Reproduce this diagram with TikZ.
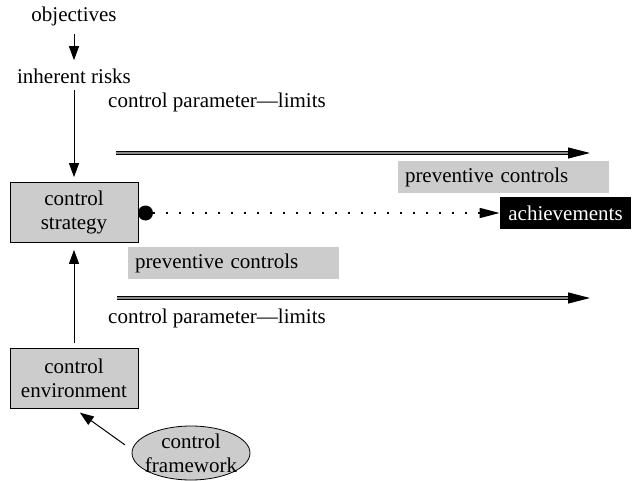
\documentclass[tikz,border=0pt]{standalone}
\usepackage{fontspec}
\setmainfont{Liberation Serif}
\usetikzlibrary{positioning,arrows.meta,shapes.geometric}

\begin{document}
\begin{tikzpicture}[x=0.5pt,y=-0.5pt,node distance=30pt,font=\fontsize{10.5}{12}\selectfont,
  >={Triangle[length=7pt,width=5pt]}]
  \useasboundingbox (0,0) rectangle (632,481);
  \tikzset{
    plain/.style={inner sep=1pt},
    control/.style={rectangle,draw=black,fill=black!20,minimum width=64pt,minimum height=30pt,align=center,inner sep=2pt},
    framework/.style={ellipse,draw=black,fill=black!20,minimum width=59pt,minimum height=27pt,align=center,inner xsep=-4pt,inner ysep=-3.5pt},
    prevent/.style={rectangle,fill=black!20,minimum height=16pt,text width=98.5pt,align=left,inner xsep=3.5pt,inner ysep=2pt},
    result/.style={rectangle,fill=black,text=white,minimum width=65.5pt,minimum height=16pt,inner sep=1pt},
    marker/.style={circle,fill=black,inner sep=0pt,minimum size=7.5pt},
    % edge styles
    flow/.style={->,line width=0.5pt},
    limits/.style={-{Triangle[length=11pt,width=5.5pt]},draw=black,line width=0.6pt,double=black!45,double distance=1.2pt},
    reach/.style={-{Triangle[length=10pt,width=5pt]},line width=0.8pt,dash pattern=on 0.8pt off 5.7pt},
    %label styles
    limitlabel/.style={inner sep=1pt}
  }

  %% Chain on the left
  \node [plain] (obj) at (74,16) {objectives};
  \node [plain, node distance=30pt] (risks) [below of=obj] {inherent risks};
  \node [control, node distance=68.25pt] (strategy) [below of=risks] {control\\strategy};
  \node [control, node distance=82.75pt] (env) [below of=strategy] {control\\environment};
  \node [framework] (frame) at (191,453) {control\\framework};

  \draw [flow, shorten <=3pt, shorten >=3pt] (obj) -- (risks);
  \draw [flow, shorten <=2pt, shorten >=2.5pt] (risks) -- (strategy);
  \draw [flow, shorten <=2.5pt, shorten >=3.5pt] (env) -- (strategy);
  \draw [flow, shorten <=4.3pt, shorten >=3.6pt] (frame.177) -- (env.south);

  %% Limits
  \coordinate (limA) at (116,153);
  \coordinate (limAend) at (590,153);
  \draw [limits] (limA) -- (limAend);
  \node [limitlabel] (parA) at (217,102) {control parameter---limits};

  \coordinate (limB) at (117,298);
  \coordinate (limBend) at (590,298);
  \draw [limits] (limB) -- (limBend);
  \node [limitlabel] (parB) at (217,318) {control parameter---limits};

  %% Controls and achievements
  \node [prevent] (prevA) at (503.5,177) {preventive controls};
  \node [prevent] (prevB) at (233.5,263) {preventive controls};

  \node [marker] (dot) at (145.5,213) {};
  \node [result] (ach) at (565.5,213) {achievements};
  \draw [reach] (dot) -- (ach);

\end{tikzpicture}
\end{document}
